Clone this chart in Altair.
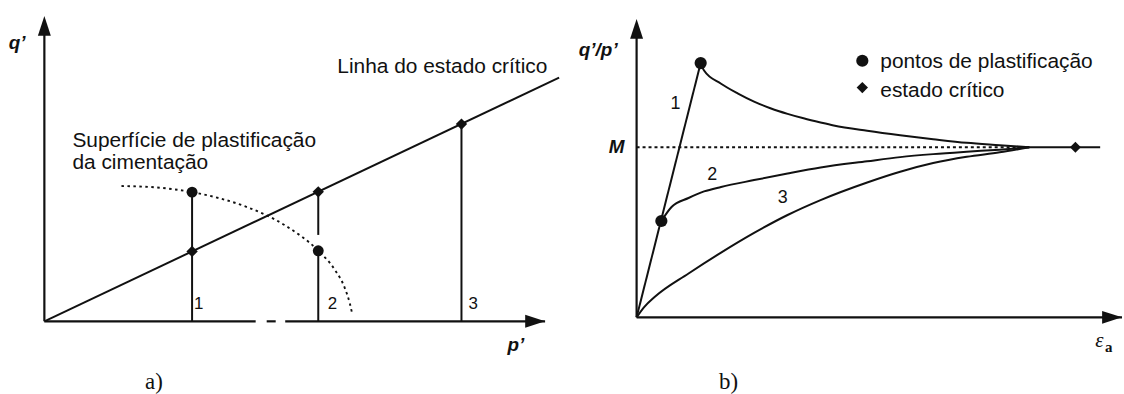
import altair as alt
import pandas as pd

FONT = "Liberation Sans"
SERIF = "Liberation Serif"
INK = "#111111"

# ---------------- panel (a): q'-p' plane ----------------
# critical state line
csl_p = [0.0, 10.28]
csl_q = [0.0, 7.98]

# cementation yield surface (dotted)
ys_p = [1.54, 2.2, 2.95, 3.5, 4.0, 4.8, 5.47, 5.8, 6.0, 6.1, 6.15]
ys_q = [4.43, 4.39, 4.23, 4.03, 3.77, 3.15, 2.31, 1.69, 1.09, 0.59, 0.23]

# vertical stress paths (p', q' from, q' to)
seg_p = [2.95, 5.47, 5.47, 8.33]
seg_q0 = [0.0, 0.0, 2.83, 0.0]
seg_q1 = [4.23, 2.31, 4.10, 6.46]

# yield points and critical states on the paths
yield_p = [2.95, 5.47]
yield_q = [4.23, 2.31]
crit_p = [2.95, 5.47, 8.33]
crit_q = [2.29, 4.24, 6.46]

# p' axis drawn in pieces (broken stroke)
axis_p0 = [0.0, 4.44, 4.81]
axis_p1 = [4.22, 4.62, 10.0]

path_names = ["1", "2", "3"]
path_name_p = [2.99, 5.66, 8.47]
path_name_q = [0.39, 0.39, 0.39]

# ---------------- panel (b): q'/p' vs axial strain ----------------
M = 5.70
peak = (1.32, 8.52)
yield2 = (0.51, 3.23)
crit_b = (9.04, M)

c1_rise_e = [0.0, peak[0]]
c1_rise_r = [0.0, peak[1]]
c1_e = [1.32, 1.39, 1.74, 2.09, 2.42, 2.77, 3.11, 3.44, 3.79, 4.06, 4.75, 5.43, 6.11, 6.80, 7.48, 8.09]
c1_r = [8.52, 8.27, 7.83, 7.50, 7.23, 7.00, 6.82, 6.67, 6.53, 6.43, 6.25, 6.10, 5.97, 5.85, 5.77, 5.70]
c2_e = [0.51, 0.72, 1.07, 1.39, 1.74, 2.42, 3.11, 3.79, 4.75, 5.43, 6.11, 6.80, 7.48, 8.09]
c2_r = [3.23, 3.70, 4.00, 4.22, 4.37, 4.60, 4.82, 5.02, 5.23, 5.37, 5.47, 5.55, 5.62, 5.70]
c3_e = [0.0, 0.16, 0.37, 1.07, 1.74, 2.42, 3.11, 3.79, 4.75, 5.43, 6.11, 6.80, 7.48, 8.09]
c3_r = [0.0, 0.35, 0.68, 1.47, 2.17, 2.83, 3.43, 3.93, 4.52, 4.88, 5.17, 5.38, 5.53, 5.70]

m_dotted = [0.0, 7.85]
m_solid = [7.85, 9.55]

curve_names = ["1", "2", "3"]
curve_name_e = [0.80, 1.56, 3.01]
curve_name_r = [7.16, 4.77, 4.00]

legend_labels = ["pontos de plastificação", "estado crítico"]

# ---------------- helpers ----------------
ARROW_RIGHT = "M0,0L-2,-0.65L-2,0.65Z"
ARROW_UP = "M0,0L-0.65,2L0.65,2Z"


def scales(x_range, y_range):
    sx = alt.Scale(domain=[0, 10], range=x_range, nice=False, zero=False)
    sy = alt.Scale(domain=[0, 10], range=y_range, nice=False, zero=False)
    return sx, sy


def enc(sx, sy, x="x", y="y", x2=None, y2=None):
    e = dict(x=alt.X(f"{x}:Q", scale=sx, axis=None), y=alt.Y(f"{y}:Q", scale=sy, axis=None))
    if x2:
        e["x2"] = alt.X2(f"{x2}:Q")
    if y2:
        e["y2"] = alt.Y2(f"{y2}:Q")
    return e


def text_layer(df, sx, sy, **mark):
    base = dict(color=INK, font=FONT, align="left", baseline="alphabetic")
    base.update(mark)
    return alt.Chart(df).mark_text(**base).encode(**enc(sx, sy), text="t:N")


def axes(sx, sy, x_pieces):
    xa = alt.Chart(pd.DataFrame({"x": x_pieces[0], "x2": x_pieces[1], "y": [0.0] * len(x_pieces[0])})).mark_rule(
        color=INK, strokeWidth=2.2).encode(**enc(sx, sy, x2="x2"))
    ya = alt.Chart(pd.DataFrame({"x": [0.0], "y": [0.0], "y2": [9.5]})).mark_rule(
        color=INK, strokeWidth=2.2).encode(**enc(sx, sy, y2="y2"))
    ah_x = alt.Chart(pd.DataFrame({"x": [10.0], "y": [0.0]})).mark_point(
        shape=ARROW_RIGHT, size=400, filled=True, color=INK, opacity=1).encode(**enc(sx, sy))
    ah_y = alt.Chart(pd.DataFrame({"x": [0.0], "y": [10.0]})).mark_point(
        shape=ARROW_UP, size=400, filled=True, color=INK, opacity=1).encode(**enc(sx, sy))
    return [xa, ya, ah_x, ah_y]


# ---------------- panel (a) ----------------
sxa, sya = scales([44.6, 548], [322, 15])

a_layers = axes(sxa, sya, (axis_p0, axis_p1))
a_layers.append(alt.Chart(pd.DataFrame({"x": csl_p, "y": csl_q})).mark_line(
    color=INK, strokeWidth=2).encode(**enc(sxa, sya)))
a_layers.append(alt.Chart(pd.DataFrame({"x": ys_p, "y": ys_q})).mark_line(
    color=INK, strokeWidth=1.9, strokeDash=[2.5, 3.5], interpolate="monotone").encode(**enc(sxa, sya)))
a_layers.append(alt.Chart(pd.DataFrame({"x": seg_p, "y": seg_q0, "y2": seg_q1})).mark_rule(
    color=INK, strokeWidth=2).encode(**enc(sxa, sya, y2="y2")))
a_layers.append(alt.Chart(pd.DataFrame({"x": yield_p, "y": yield_q})).mark_point(
    shape="circle", size=120, filled=True, color=INK, opacity=1).encode(**enc(sxa, sya)))
a_layers.append(alt.Chart(pd.DataFrame({"x": crit_p, "y": crit_q})).mark_point(
    shape="diamond", size=130, filled=True, color=INK, opacity=1).encode(**enc(sxa, sya)))
a_layers.append(text_layer(pd.DataFrame({"x": path_name_p, "y": path_name_q, "t": path_names}),
                           sxa, sya, fontSize=17))
a_layers.append(text_layer(pd.DataFrame({
    "x": [5.85, 0.56, 0.56],
    "y": [8.14, 5.70, 4.98],
    "t": ["Linha do estado crítico", "Superfície de plastificação", "da cimentação"]}),
    sxa, sya, fontSize=21))
a_layers.append(text_layer(pd.DataFrame({"x": [-0.71, 9.25], "y": [8.93, -0.98], "t": ["q’", "p’"]}),
                           sxa, sya, fontSize=19, fontStyle="italic", fontWeight="bold"))
a_layers.append(text_layer(pd.DataFrame({"x": [2.01], "y": [-2.21], "t": ["a)"]}),
                           sxa, sya, fontSize=23, font=SERIF))

panel_a = alt.layer(*a_layers).properties(width=562, height=394)

# ---------------- panel (b) ----------------
sxb, syb = scales([73, 561], [318, 18])

b_layers = axes(sxb, syb, ([0.0], [10.0]))
b_layers.append(alt.Chart(pd.DataFrame({"x": m_dotted, "y": [M, M]})).mark_line(
    color=INK, strokeWidth=1.9, strokeDash=[3, 3]).encode(**enc(sxb, syb)))
b_layers.append(alt.Chart(pd.DataFrame({"x": m_solid, "y": [M, M]})).mark_line(
    color=INK, strokeWidth=2.2).encode(**enc(sxb, syb)))
b_layers.append(alt.Chart(pd.DataFrame({"x": c1_rise_e, "y": c1_rise_r})).mark_line(
    color=INK, strokeWidth=2).encode(**enc(sxb, syb)))
curves = pd.concat([
    pd.DataFrame({"x": c1_e, "y": c1_r, "c": "1"}),
    pd.DataFrame({"x": c2_e, "y": c2_r, "c": "2"}),
    pd.DataFrame({"x": c3_e, "y": c3_r, "c": "3"}),
])
b_layers.append(alt.Chart(curves).mark_line(
    color=INK, strokeWidth=2, interpolate="monotone").encode(detail="c:N", **enc(sxb, syb)))
b_layers.append(alt.Chart(pd.DataFrame({"x": [peak[0], yield2[0]], "y": [peak[1], yield2[1]]})).mark_point(
    shape="circle", size=150, filled=True, color=INK, opacity=1).encode(**enc(sxb, syb)))
b_layers.append(alt.Chart(pd.DataFrame({"x": [crit_b[0]], "y": [crit_b[1]]})).mark_point(
    shape="diamond", size=120, filled=True, color=INK, opacity=1).encode(**enc(sxb, syb)))
b_layers.append(text_layer(pd.DataFrame({"x": curve_name_e, "y": curve_name_r, "t": curve_names}),
                           sxb, syb, fontSize=18, align="center", baseline="middle"))

# key for the two marker types
key_x = [4.65, 4.65]
key_y = [8.60, 7.70]
b_layers.append(alt.Chart(pd.DataFrame({"x": key_x[:1], "y": key_y[:1]})).mark_point(
    shape="circle", size=150, filled=True, color=INK, opacity=1).encode(**enc(sxb, syb)))
b_layers.append(alt.Chart(pd.DataFrame({"x": key_x[1:], "y": key_y[1:]})).mark_point(
    shape="diamond", size=130, filled=True, color=INK, opacity=1).encode(**enc(sxb, syb)))
b_layers.append(text_layer(pd.DataFrame({"x": [5.02, 5.02], "y": [8.37, 7.40], "t": legend_labels}),
                           sxb, syb, fontSize=21))

b_layers.append(text_layer(pd.DataFrame({"x": [-1.19], "y": [8.77], "t": ["q’/p’"]}),
                           sxb, syb, fontSize=19, fontStyle="italic", fontWeight="bold"))
b_layers.append(text_layer(pd.DataFrame({"x": [-0.25], "y": [M], "t": ["M"]}),
                           sxb, syb, fontSize=19, fontStyle="italic", fontWeight="bold",
                           align="right", baseline="middle"))
b_layers.append(text_layer(pd.DataFrame({"x": [9.45], "y": [-1.0], "t": ["ε"]}),
                           sxb, syb, fontSize=21, font=SERIF, fontStyle="italic"))
b_layers.append(text_layer(pd.DataFrame({"x": [9.65], "y": [-1.17], "t": ["a"]}),
                           sxb, syb, fontSize=15, font=SERIF, fontWeight="bold"))
b_layers.append(text_layer(pd.DataFrame({"x": [1.70], "y": [-2.4], "t": ["b)"]}),
                           sxb, syb, fontSize=23, font=SERIF))

panel_b = alt.layer(*b_layers).properties(width=562, height=394)

chart = alt.hconcat(panel_a, panel_b, spacing=0).properties(
    padding=0, background="white"
).configure_view(stroke=None)

chart.save("out.html", embed_options={"renderer": "svg", "actions": False})
